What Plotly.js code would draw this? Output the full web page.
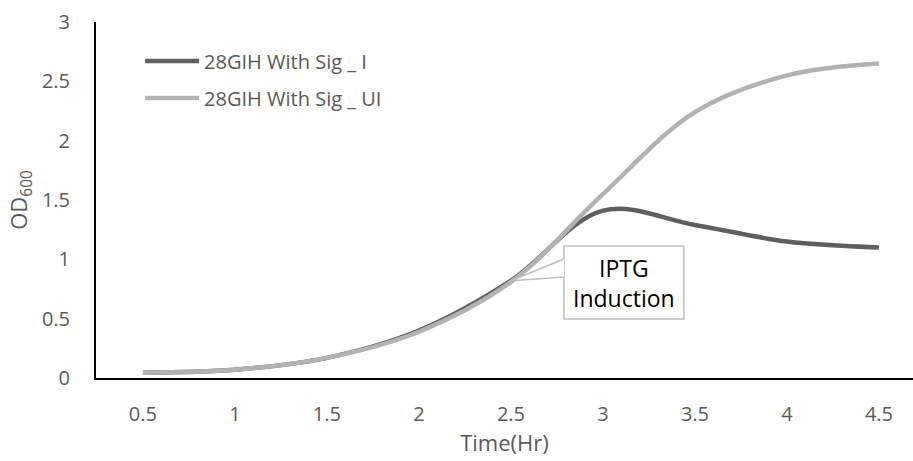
<!DOCTYPE html>
<html>
<head>
<meta charset="utf-8">
<script src="https://cdn.plot.ly/plotly-3.0.1.min.js"></script>
<style>html,body{margin:0;padding:0;background:#fff;}#chart{width:913px;height:461px;}</style>
</head>
<body>
<div id="chart"></div>
<script>
// Data
const timeHr = [0.5, 1, 1.5, 2, 2.5, 3, 3.5, 4, 4.5];
const sigInduced = [0.045, 0.07, 0.17, 0.40, 0.82, 1.41, 1.29, 1.15, 1.10];
const sigUninduced = [0.045, 0.07, 0.17, 0.39, 0.81, 1.55, 2.24, 2.55, 2.65];
const seriesNames = ["28GIH With Sig _ I", "28GIH With Sig _ UI"];
const xTickVals = [0.5, 1, 1.5, 2, 2.5, 3, 3.5, 4, 4.5];
const xTickText = ["0.5", "1", "1.5", "2", "2.5", "3", "3.5", "4", "4.5"];
const yTickVals = [0, 0.5, 1, 1.5, 2, 2.5, 3];
const yTickText = ["0", "0.5", "1", "1.5", "2", "2.5", "3"];
const calloutText = "IPTG<br>Induction";
const inductionIndex = 4;

const FONT = "'Open Sans', 'Noto Sans', sans-serif";

const traces = [
  {
    x: timeHr, y: sigInduced, name: seriesNames[0], type: "scatter", mode: "lines",
    line: {color: "#5f5f5f", width: 4.5, shape: "spline", smoothing: 1},
    legendgroup: "a", hoverinfo: "skip"
  },
  {
    x: timeHr, y: sigUninduced, name: seriesNames[1], type: "scatter", mode: "lines",
    line: {color: "#b2b2b2", width: 4.5, shape: "spline", smoothing: 1},
    legendgroup: "b", hoverinfo: "skip"
  }
];

// callout geometry (data coordinates), tip at the induction data point
const tipX = timeHr[inductionIndex];
const tipY = sigInduced[inductionIndex];
const boxL = 2.788, boxR = 3.44, boxT = 1.112, boxB = 0.497;
const wedgeTop = 1.003, wedgeBot = 0.851;

const layout = {
  width: 913, height: 461,
  margin: {l: 96, r: 0, t: 22, b: 83},
  paper_bgcolor: "#fff", plot_bgcolor: "#fff",
  font: {family: FONT, color: "#595959", size: 20},
  showlegend: true,
  legend: {
    x: 0.054, y: 0.945, xanchor: "left", yanchor: "top",
    font: {family: FONT, size: 20, color: "#595959"},
    bgcolor: "rgba(0,0,0,0)", itemwidth: 54, tracegroupgap: 8,
    traceorder: "grouped"
  },
  xaxis: {
    range: [0.245, 4.685], tickmode: "array", tickvals: xTickVals, ticktext: xTickText,
    showgrid: false, zeroline: false, showline: true, linecolor: "#000", linewidth: 2,
    ticks: "", ticklabelstandoff: 17,
    tickfont: {family: FONT, size: 20, color: "#595959"},
    title: {text: "Time(Hr)", font: {family: FONT, size: 22, color: "#595959"}, standoff: 10}
  },
  yaxis: {
    range: [0, 3], tickmode: "array", tickvals: yTickVals, ticktext: yTickText,
    showgrid: false, zeroline: false, showline: true, linecolor: "#000", linewidth: 2,
    ticks: "", ticklabelstandoff: 20,
    tickfont: {family: FONT, size: 20, color: "#595959"},
    title: {text: "OD<sub>600</sub>", font: {family: FONT, size: 22, color: "#595959"}, standoff: 8}
  },
  shapes: [
    {type: "rect", xref: "x", yref: "y", x0: boxL, x1: boxR, y0: boxB, y1: boxT,
     line: {color: "#bfbfbf", width: 1.5}, fillcolor: "#fff", layer: "above"},
    {type: "path", xref: "x", yref: "y",
     path: "M" + boxL + "," + wedgeTop + " L" + tipX + "," + tipY + " L" + boxL + "," + wedgeBot,
     line: {color: "#bfbfbf", width: 1.5}, fillcolor: "#fff", layer: "above"}
  ],
  annotations: [
    {xref: "x", yref: "y", x: (boxL + boxR) / 2, y: (boxT + boxB) / 2,
     text: calloutText, showarrow: false,
     font: {family: FONT, size: 23, color: "#000"}, align: "center"}
  ]
};

Plotly.newPlot("chart", traces, layout, {displayModeBar: false, staticPlot: true});
</script>
</body>
</html>
